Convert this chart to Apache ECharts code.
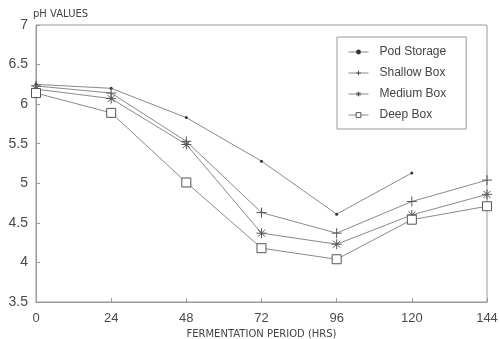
<!DOCTYPE html>
<html>
<head>
<meta charset="utf-8">
<script src="https://cdn.jsdelivr.net/npm/echarts@6/dist/echarts.min.js"></script>
<style>html,body{margin:0;padding:0;background:#fff}#c{width:500px;height:339px}</style>
</head>
<body>
<div id="c"></div>
<script>
var hours = [0, 24, 48, 72, 96, 120, 144];
var yTicks = [3.5, 4, 4.5, 5, 5.5, 6, 6.5, 7];
var podStorage = [6.25, 6.2, 5.83, 5.28, 4.61, 5.13, null];
var shallowBox = [6.23, 6.14, 5.53, 4.63, 4.37, 4.77, 5.04];
var mediumBox = [6.19, 6.07, 5.49, 4.37, 4.23, 4.6, 4.86];
var deepBox = [6.14, 5.89, 5.01, 4.18, 4.04, 4.54, 4.71];

function pairs(arr) {
  var out = [];
  for (var i = 0; i < hours.length; i++) if (arr[i] != null) out.push([hours[i], arr[i]]);
  return out;
}
var lineC = '#8a8a8a', symC = '#555';
var plus = 'path://M0,5L10,5M5,0L5,10';
var star = 'path://M0,5L10,5M5,0L5,10M1.5,1.5L8.5,8.5M8.5,1.5L1.5,8.5';
function mk(name, data, symbol, size, item) {
  return {
    name: name, type: 'line', data: pairs(data), symbol: symbol, symbolSize: size,
    lineStyle: { color: lineC, width: 1 },
    itemStyle: item, emphasis: { disabled: true }, animation: false
  };
}
var chart = echarts.init(document.getElementById('c'));
chart.setOption({
  backgroundColor: '#fff',
  animation: false,
  title: { text: 'pH VALUES', left: 28, top: 4, textStyle: { fontSize: 10, fontWeight: 'normal', color: '#444', fontFamily: 'DejaVu Sans' } },
  grid: { left: 36, right: 13, top: 25, bottom: 37, show: true, borderColor: '#999', borderWidth: 1, outerBoundsMode: 'none', containLabel: false },
  legend: {
    orient: 'vertical', left: 337, top: 37,
    padding: [9, 20, 8, 11], itemGap: 9, itemWidth: 20, itemHeight: 6,
    borderColor: '#999', borderWidth: 1,
    itemStyle: { borderWidth: 1 },
    lineStyle: { width: 1 },
    textStyle: { fontSize: 12, color: '#444', fontFamily: 'Liberation Sans', padding: [0, 0, 0, 6] },
    data: ['Pod Storage', 'Shallow Box', 'Medium Box', 'Deep Box']
  },
  xAxis: {
    type: 'value', min: 0, max: 144, interval: 24,
    name: 'FERMENTATION PERIOD (HRS)', nameLocation: 'middle', nameGap: 27,
    nameTextStyle: { fontSize: 10, color: '#444', fontFamily: 'DejaVu Sans' },
    axisLine: { lineStyle: { color: '#999' } },
    axisTick: { inside: true, length: 4, lineStyle: { color: '#999' } },
    axisLabel: { fontSize: 13, color: '#4a4a4a', margin: 10, fontFamily: 'Liberation Sans' },
    splitLine: { show: false }
  },
  yAxis: {
    type: 'value', min: 3.5, max: 7, interval: 0.5,
    axisLine: { show: true, lineStyle: { color: '#999' } },
    axisTick: { show: true, inside: true, length: 4, lineStyle: { color: '#999' } },
    axisLabel: { fontSize: 14, color: '#4a4a4a', margin: 8, fontFamily: 'Liberation Sans',
      formatter: function (v) { return yTicks.indexOf(v) >= 0 ? String(v) : ''; } },
    splitLine: { show: false }
  },
  series: [
    mk('Pod Storage', podStorage, 'circle', 3, { color: '#333' }),
    mk('Shallow Box', shallowBox, plus, 10, { color: 'transparent', borderColor: symC, borderWidth: 1 }),
    mk('Medium Box', mediumBox, star, 10, { color: 'transparent', borderColor: symC, borderWidth: 1 }),
    mk('Deep Box', deepBox, 'rect', 9, { color: '#fff', borderColor: symC, borderWidth: 1 })
  ]
});
</script>
</body>
</html>
